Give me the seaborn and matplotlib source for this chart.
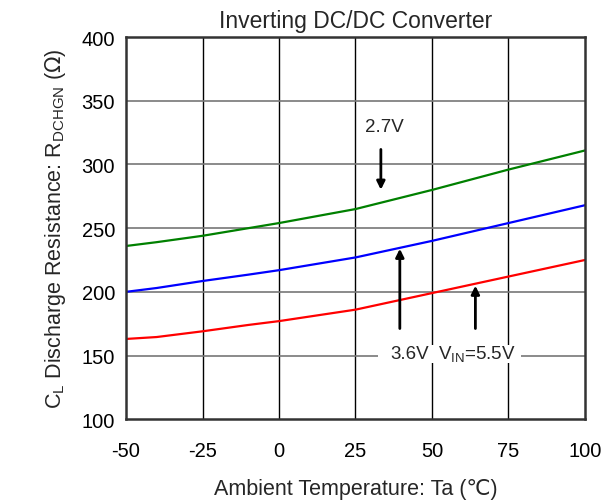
import matplotlib
matplotlib.use('Agg')
import matplotlib.pyplot as plt
import seaborn as sns
import pandas as pd

# temperatures (deg C) and discharge resistance (ohm) per input voltage
temps = [-50, -40, -25, -10, 0, 25, 50, 75, 100]
r_27v = [236, 239, 244, 250, 254, 265, 280, 296, 311]
r_36v = [200, 203, 208.5, 213.5, 217, 227, 240, 254, 268]
r_55v = [163, 164.5, 169, 174, 177, 186, 199, 212, 225]

series = ['2.7V', '3.6V', '5.5V']
colors = ['#008000', '#0000ff', '#ff0000']

df = pd.concat([
    pd.DataFrame({'Ta': temps, 'R': r, 'Vin': name})
    for r, name in zip([r_27v, r_36v, r_55v], series)
])

sns.set_style('white')
plt.rcParams['font.family'] = ['Liberation Sans', 'DejaVu Sans']
plt.rcParams['axes.unicode_minus'] = False

fig = plt.figure(figsize=(6.03, 5.02), dpi=100)
ax = fig.add_axes([0.209, 0.163, 0.761, 0.761])

sns.lineplot(data=df, x='Ta', y='R', hue='Vin', palette=colors,
             linewidth=1.6, legend=False, ax=ax)

ax.set_xlim(-50, 100)
ax.set_ylim(100, 400)
ax.set_xticks(range(-50, 101, 25))
ax.set_yticks(range(100, 401, 50))

# grid: vertical black, horizontal gray
for x in range(-25, 100, 25):
    ax.axvline(x, color='black', lw=1.0, zorder=0)
for y in range(150, 400, 50):
    ax.axhline(y, color='#777777', lw=1.2, zorder=0)

for s in ax.spines.values():
    s.set_color('#333333')
    s.set_linewidth(1.8)

ax.tick_params(axis='both', labelsize=14.5, colors='black')
ax.tick_params(axis='x', pad=16, length=0)
ax.tick_params(axis='y', direction='in', length=5, width=1.5, color='#333333', pad=8)

ax.set_title('Inverting DC/DC Converter', fontsize=16.5, pad=7)
ax.set_xlabel('Ambient Temperature: Ta (℃)', fontsize=15.5, labelpad=13)
ax.set_ylabel(r'C$_\mathregular{L}$ Discharge Resistance: R$_\mathregular{DCHGN}$ ($\Omega$)',
              fontsize=15.5, labelpad=10)

arrow = dict(arrowstyle='-|>', color='black', lw=2, mutation_scale=12)
ax.annotate('', xy=(33.3, 278), xytext=(33.3, 314), arrowprops=arrow)
ax.text(34.5, 330, '2.7V', fontsize=13.5, ha='center', va='center')
ax.annotate('', xy=(39.5, 236), xytext=(39.5, 169), arrowprops=arrow)
ax.annotate('', xy=(64.2, 207), xytext=(64.2, 169), arrowprops=arrow)
ax.axhspan(144, 158, xmin=(32.5 + 50) / 150, xmax=(79 + 50) / 150,
           color='white', zorder=1, lw=0)
ax.text(42.6, 151.5, '3.6V', fontsize=13.5, ha='center', va='center', zorder=3)
ax.text(64.6, 151.5, r'V$_\mathregular{IN}$=5.5V', fontsize=13.5, ha='center',
        va='center', zorder=3)

fig.savefig('out.png', dpi=100)
